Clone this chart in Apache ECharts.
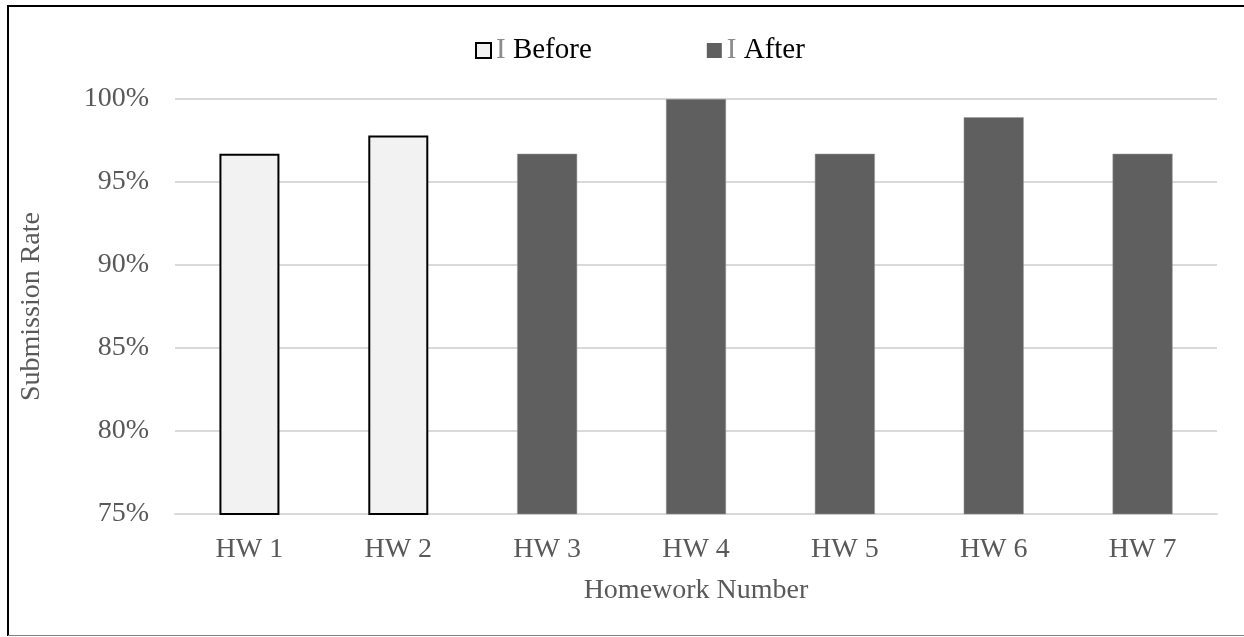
<!DOCTYPE html>
<html>
<head>
<meta charset="utf-8">
<script src="https://cdn.jsdelivr.net/npm/echarts@6/dist/echarts.min.js"></script>
<style>
  html, body { margin: 0; padding: 0; background: #fff; }
  #chart { width: 1244px; height: 637px; }
</style>
</head>
<body>
<div id="chart"></div>
<script>
// Homework submission rates before and after the change
const categories = ['HW 1', 'HW 2', 'HW 3', 'HW 4', 'HW 5', 'HW 6', 'HW 7'];
const beforeRates = [96.7, 97.8, null, null, null, null, null];
const afterRates = [null, null, 96.7, 100, 96.7, 98.9, 96.7];
const yTicks = { min: 75, max: 100, step: 5 };

const FONT = '"Liberation Serif", "Times New Roman", serif';
const chart = echarts.init(document.getElementById('chart'), null, { renderer: 'canvas' });

chart.setOption({
  backgroundColor: '#ffffff',
  animation: false,
  textStyle: { fontFamily: FONT },
  graphic: [
    { type: 'line', shape: { x1: 8, y1: 6, x2: 1244, y2: 6 }, style: { stroke: '#000', lineWidth: 2 } },
    { type: 'line', shape: { x1: 8, y1: 5, x2: 8, y2: 636 }, style: { stroke: '#000', lineWidth: 2 } },
    { type: 'line', shape: { x1: 8, y1: 635.5, x2: 1244, y2: 635.5 }, style: { stroke: '#808080', lineWidth: 1 } }
  ],
  legend: {
    top: 31,
    left: 470,
    icon: 'rect',
    itemWidth: 15,
    itemHeight: 15,
    itemGap: 115,
    formatter: function (name) { return '{g|I} ' + name; },
    textStyle: {
      fontFamily: FONT,
      fontSize: 29,
      color: '#000',
      rich: {
        g: { fontFamily: FONT, fontSize: 29, color: '#8c8c8c' }
      }
    },
    data: [
      { name: 'Before', itemStyle: { color: '#f2f2f2', borderColor: '#000', borderWidth: 2 } },
      { name: 'After', itemStyle: { color: '#5f5f5f', borderWidth: 0 } }
    ]
  },
  grid: { left: 175, right: 27, top: 99, bottom: 123 },
  xAxis: {
    type: 'category',
    data: categories,
    name: 'Homework Number',
    nameLocation: 'middle',
    nameGap: 63,
    nameTextStyle: { fontFamily: FONT, fontSize: 28, color: '#595959' },
    axisLine: { show: true, lineStyle: { color: '#d9d9d9', width: 2 } },
    axisTick: { show: false },
    axisLabel: { fontFamily: FONT, fontSize: 28, color: '#595959', margin: 22 }
  },
  yAxis: {
    type: 'value',
    min: yTicks.min,
    max: yTicks.max,
    interval: yTicks.step,
    name: 'Submission Rate',
    nameLocation: 'middle',
    nameGap: 129,
    nameTextStyle: { fontFamily: FONT, fontSize: 28, color: '#595959' },
    axisLine: { show: false },
    axisTick: { show: false },
    axisLabel: { formatter: '{value}%', fontFamily: FONT, fontSize: 28, color: '#595959', margin: 26 },
    splitLine: { lineStyle: { color: '#d9d9d9', width: 2 } }
  },
  series: [
    {
      name: 'Before',
      type: 'bar',
      data: beforeRates,
      barWidth: 60,
      barGap: '-100%',
      itemStyle: { color: '#f2f2f2', borderColor: '#000', borderWidth: 2 }
    },
    {
      name: 'After',
      type: 'bar',
      data: afterRates,
      barWidth: 60,
      barGap: '-100%',
      itemStyle: { color: '#5f5f5f', borderColor: '#9a9a9a', borderWidth: 0.5 }
    }
  ]
});
</script>
</body>
</html>
